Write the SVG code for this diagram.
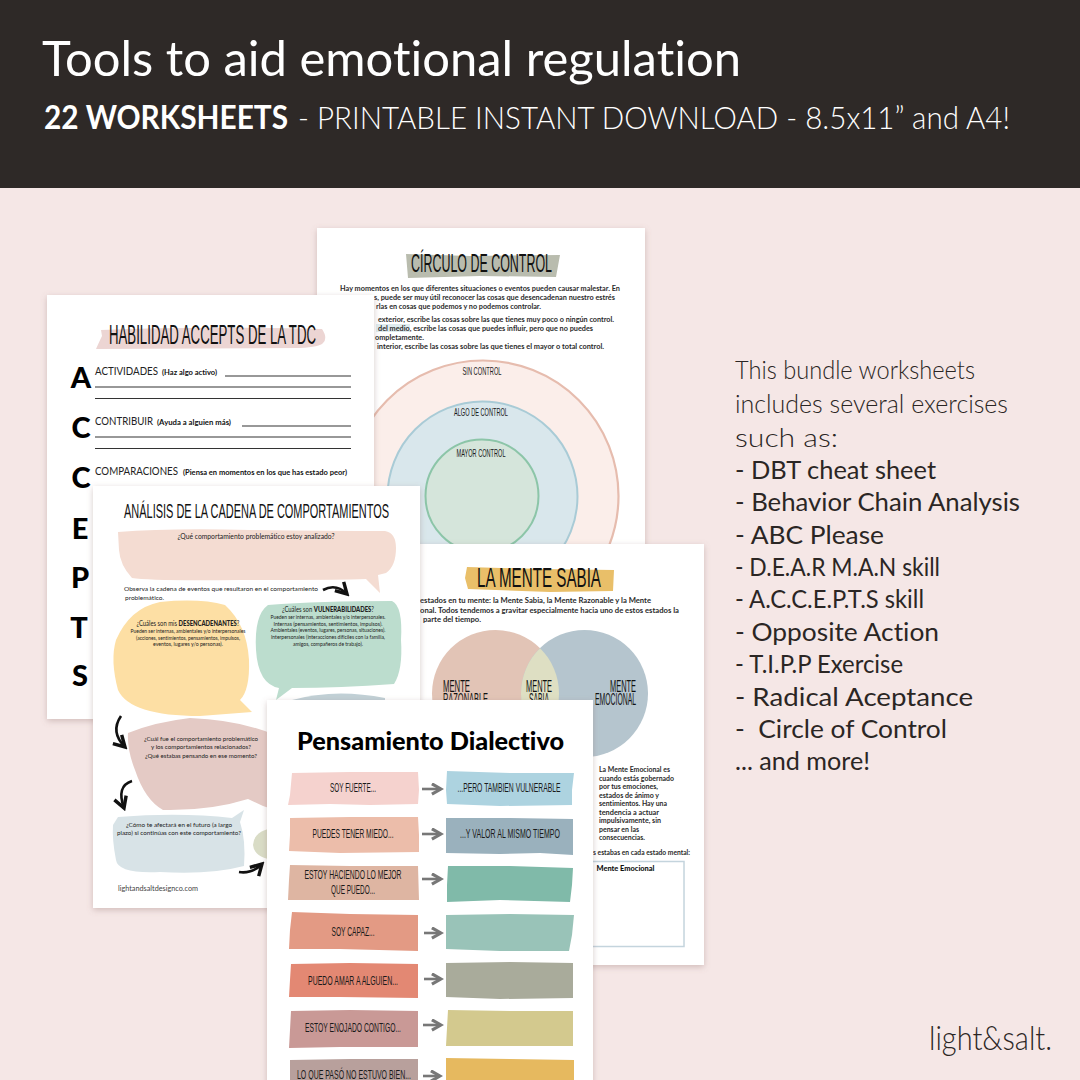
<svg xmlns="http://www.w3.org/2000/svg" width="1080" height="1080" viewBox="0 0 1080 1080">
<defs>
<filter id="sh" x="-10%" y="-10%" width="120%" height="120%"><feDropShadow dx="0" dy="2" stdDeviation="3" flood-color="#8a6a66" flood-opacity="0.35"/></filter>
<marker id="ah" viewBox="0 0 10 10" refX="8" refY="5" markerWidth="5" markerHeight="5" orient="auto"><path d="M1 1L8 5L1 9" fill="none" stroke="#777" stroke-width="2.4"/></marker>
<marker id="bh" viewBox="0 0 10 10" refX="8" refY="5" markerWidth="6" markerHeight="6" orient="auto"><path d="M1 1L8 5L1 9" fill="none" stroke="#111" stroke-width="2.2"/></marker>
</defs>
<style>
text{font-family:"Lato","Noto Sans",sans-serif;fill:#111;font-variant-ligatures:none}
.page{fill:#fff;filter:url(#sh)}
.hd{font-family:"Liberation Sans Narrow","Liberation Sans",sans-serif;fill:#111}
.b{font-size:7.6px;font-weight:700;fill:#2a2a2a}
.h{font-size:6.4px;fill:#222}
.t{font-size:7.2px;fill:#222;text-anchor:middle}
.ln{stroke:#333;stroke-width:1.2}
.side{font-size:25.5px;fill:#2b2624}
.lt{font-weight:300}
.reg{font-weight:400}
.lab{font-family:"Liberation Sans Narrow","Liberation Sans",sans-serif;font-size:13.5px;text-anchor:middle;fill:#1a1a1a}
.cl{font-size:11px}
.ar{stroke:#777;stroke-width:2.6;fill:none;marker-end:url(#ah)}
.ca{stroke:#111;stroke-width:2.6;fill:none;marker-end:url(#bh)}
.ltr{font-size:29px;font-weight:900;text-anchor:middle;fill:#000}
.w{fill:#fff}
.s1{font-size:10.5px;fill:#222}
.s2{font-size:8px;font-weight:700}
.m{font-size:16.5px}
.x{font-size:5.6px}
.y{font-size:6.6px}
.z{font-size:6.4px}
</style>
<rect width="1080" height="1080" fill="#f5e7e6"/>
<rect width="1080" height="188" fill="#2e2927"/>
<text class="w" x="42" y="76" font-size="47.5" textLength="699" lengthAdjust="spacingAndGlyphs" style="fill:#fff">Tools to aid emotional regulation</text>
<text class="w" x="44" y="129" font-size="32" font-weight="700" textLength="244" lengthAdjust="spacingAndGlyphs" style="fill:#fff">22 WORKSHEETS</text>
<text class="w" x="298" y="129" font-size="32" font-weight="300" textLength="712" lengthAdjust="spacingAndGlyphs" style="fill:#fff">- PRINTABLE INSTANT DOWNLOAD - 8.5x11” and A4!</text>

<g id="circulo">
<rect class="page" x="317" y="228" width="328" height="330"/>
<path d="M406 254L470 256L560 255L556 277L480 276L408 278Z" fill="#b9bcae"/>
<text class="hd" x="411" y="272" font-size="26" textLength="141" lengthAdjust="spacingAndGlyphs">CÍRCULO DE CONTROL</text>
<text class="b" x="340" y="291" textLength="280" lengthAdjust="spacingAndGlyphs">Hay momentos en los que diferentes situaciones o eventos pueden causar malestar. En</text>
<text class="b" x="374" y="300" textLength="241" lengthAdjust="spacingAndGlyphs">s, puede ser muy útil reconocer las cosas que desencadenan nuestro estrés</text>
<text class="b" x="376" y="309" textLength="165" lengthAdjust="spacingAndGlyphs">rlas en cosas que podemos y no podemos controlar.</text>
<text class="b" x="378" y="322" textLength="236" lengthAdjust="spacingAndGlyphs">exterior, escribe las cosas sobre las que tienes muy poco o ningún control.</text>
<rect x="376" y="324" width="34" height="8" fill="#dfecef"/>
<text class="b" x="378" y="331" textLength="215" lengthAdjust="spacingAndGlyphs">del medio, escribe las cosas que puedes influir, pero que no puedes</text>
<text class="b" x="375" y="340" textLength="49" lengthAdjust="spacingAndGlyphs">ompletamente.</text>
<text class="b" x="377" y="349" textLength="227" lengthAdjust="spacingAndGlyphs">interior, escribe las cosas sobre las que tienes el mayor o total control.</text>
<circle cx="483" cy="496" r="135.5" fill="#fbeeea" stroke="#e6bcae" stroke-width="2.2"/>
<circle cx="482.5" cy="496.5" r="95" fill="#d9e7ec" stroke="#a9cbd6" stroke-width="2"/>
<circle cx="482" cy="496" r="56.5" fill="#d5e5db" stroke="#8cc5a8" stroke-width="2"/>
<text class="lab cl" x="482" y="375" textLength="39" lengthAdjust="spacingAndGlyphs">SIN CONTROL</text>
<text class="lab cl" x="481" y="416" textLength="54" lengthAdjust="spacingAndGlyphs">ALGO DE CONTROL</text>
<text class="lab cl" x="481" y="457" textLength="49" lengthAdjust="spacingAndGlyphs">MAYOR CONTROL</text>
</g>

<g id="accepts">
<rect class="page" x="47" y="295" width="327" height="424"/>
<path d="M101 330Q200 326 322 329Q328 338 323 343Q320 347 300 348L96 349Q100 340 102 336Z" fill="#ecd5d3"/>
<text class="hd" x="109" y="344" font-size="27" textLength="207" lengthAdjust="spacingAndGlyphs">HABILIDAD ACCEPTS DE LA TDC</text>
<text class="ltr" x="81" y="388">A</text>
<text class="ltr" x="81" y="438">C</text>
<text class="ltr" x="81" y="488">C</text>
<text class="ltr" x="80" y="539">E</text>
<text class="ltr" x="80" y="588">P</text>
<text class="ltr" x="79" y="638">T</text>
<text class="ltr" x="80" y="686">S</text>
<text class="s1" x="95" y="375" textLength="63" lengthAdjust="spacingAndGlyphs">ACTIVIDADES</text>
<text class="s2" x="162" y="375" textLength="55" lengthAdjust="spacingAndGlyphs">(Haz algo activo)</text>
<text class="s1" x="95" y="425" textLength="58" lengthAdjust="spacingAndGlyphs">CONTRIBUIR</text>
<text class="s2" x="157" y="425" textLength="74" lengthAdjust="spacingAndGlyphs">(Ayuda a alguien más)</text>
<text class="s1" x="95" y="475" textLength="83" lengthAdjust="spacingAndGlyphs">COMPARACIONES</text>
<text class="s2" x="183" y="475" textLength="164" lengthAdjust="spacingAndGlyphs">(Piensa en momentos en los que has estado peor)</text>
<path class="ln" d="M225 376H351M95 387H351M95 398.5H351M242 426H351M95 437H351M95 448.5H351"/>
</g>

<g id="mente">
<rect class="page" x="404" y="544" width="300" height="421"/>
<path d="M467 567L540 569L614 570L613 591L550 592L468 589L465 578Z" fill="#e9bf69"/>
<text class="hd" x="477" y="587" font-size="27" textLength="124" lengthAdjust="spacingAndGlyphs">LA MENTE SABIA</text>
<text class="b" x="420" y="603" textLength="231" lengthAdjust="spacingAndGlyphs">estados en tu mente: la Mente Sabia, la Mente Razonable y la Mente</text>
<text class="b" x="420" y="613" textLength="259" lengthAdjust="spacingAndGlyphs">onal. Todos tendemos a gravitar especialmente hacia uno de estos estados la</text>
<text class="b" x="423" y="622" textLength="58" lengthAdjust="spacingAndGlyphs">parte del tiempo.</text>
<circle cx="495.5" cy="693.5" r="63.5" fill="#e2c4b6"/>
<circle cx="584.5" cy="693.5" r="63.5" fill="#b5c5ce"/>
<path d="M540 648.2A63.5 63.5 0 0 1 540 738.8A63.5 63.5 0 0 1 540 648.2Z" fill="#dedfc3"/>
<text class="hd m" x="443" y="692" textLength="27" lengthAdjust="spacingAndGlyphs">MENTE</text>
<text class="hd m" x="443" y="705" textLength="45" lengthAdjust="spacingAndGlyphs">RAZONABLE</text>
<text class="hd m" x="526" y="692" textLength="26" lengthAdjust="spacingAndGlyphs">MENTE</text>
<text class="hd m" x="529" y="705" textLength="20" lengthAdjust="spacingAndGlyphs">SABIA</text>
<text class="hd m" x="610" y="692" textLength="26" lengthAdjust="spacingAndGlyphs">MENTE</text>
<text class="hd m" x="595" y="705" textLength="41" lengthAdjust="spacingAndGlyphs">EMOCIONAL</text>
<text class="b" x="599" y="772" textLength="71" lengthAdjust="spacingAndGlyphs">La Mente Emocional es</text>
<text class="b" x="599" y="780.5" textLength="75" lengthAdjust="spacingAndGlyphs">cuando estás gobernado</text>
<text class="b" x="599" y="789" textLength="59" lengthAdjust="spacingAndGlyphs">por tus emociones,</text>
<text class="b" x="599" y="797.5" textLength="60" lengthAdjust="spacingAndGlyphs">estados de ánimo y</text>
<text class="b" x="599" y="806" textLength="68" lengthAdjust="spacingAndGlyphs">sentimientos. Hay una</text>
<text class="b" x="599" y="814.5" textLength="60" lengthAdjust="spacingAndGlyphs">tendencia a actuar</text>
<text class="b" x="599" y="823" textLength="62" lengthAdjust="spacingAndGlyphs">impulsivamente, sin</text>
<text class="b" x="599" y="831.5" textLength="40" lengthAdjust="spacingAndGlyphs">pensar en las</text>
<text class="b" x="599" y="840" textLength="46" lengthAdjust="spacingAndGlyphs">consecuencias.</text>
<text class="b" x="593" y="855" textLength="97" lengthAdjust="spacingAndGlyphs">s estabas en cada estado mental:</text>
<rect x="570" y="861.5" width="114" height="85" fill="none" stroke="#c4d4dd" stroke-width="1.5"/>
<text x="596.5" y="871" font-size="7.6" font-weight="900" textLength="58" lengthAdjust="spacingAndGlyphs">Mente Emocional</text>
</g>

<g id="cadena">
<rect class="page" x="93" y="486" width="327" height="422"/>
<text class="hd" x="124" y="518" font-size="21" textLength="265" lengthAdjust="spacingAndGlyphs">ANÁLISIS DE LA CADENA DE COMPORTAMIENTOS</text>
<path d="M118 532Q170 528 250 530Q330 531 385 531Q396 533 396 548Q396 566 386 573L378 575L380 593L366 579Q340 580 240 580Q150 581 132 578Q120 565 119 550Z" fill="#f4dcd2"/>
<text class="t" x="256" y="539" textLength="157" lengthAdjust="spacingAndGlyphs">¿Qué comportamiento problemático estoy analizado?</text>
<text class="h" x="124" y="591" textLength="194" lengthAdjust="spacingAndGlyphs">Observa la cadena de eventos que resultaron en el comportamiento</text>
<text class="h" x="125" y="600" textLength="39" lengthAdjust="spacingAndGlyphs">problemático.</text>
<path class="ca" d="M323 590Q336 583 347 594"/>
<path d="M160 602Q200 598 225 605Q247 625 249 660Q250 690 240 700L252 712L200 716Q130 716 118 690Q110 660 116 640Q130 608 160 602Z" fill="#fddfa4"/>
<text class="t y" x="188" y="626" textLength="103" lengthAdjust="spacingAndGlyphs">¿Cuáles son mis <tspan font-weight="900">DESENCADENANTES</tspan>?</text>
<text class="t x" x="188" y="633" textLength="115" lengthAdjust="spacingAndGlyphs">Pueden ser internas, ambientales y/o interpersonales</text>
<text class="t x" x="188" y="640" textLength="104" lengthAdjust="spacingAndGlyphs">(acciones, sentimientos, pensamientos, impulsos,</text>
<text class="t x" x="188" y="646" textLength="70" lengthAdjust="spacingAndGlyphs">eventos, lugares y/o personas).</text>
<path d="M268 605Q320 601 392 601Q403 606 401 640Q403 670 394 684Q340 688 292 688L276 700L279 688Q258 684 256 650Q254 615 268 605Z" fill="#bcddce"/>
<text class="t y" x="328" y="612" textLength="92" lengthAdjust="spacingAndGlyphs">¿Cuáles son <tspan font-weight="900">VULNERABILIDADES</tspan>?</text>
<text class="t x" x="328" y="619" textLength="115" lengthAdjust="spacingAndGlyphs">Pueden ser internas, ambientales y/o interpersonales.</text>
<text class="t x" x="328" y="626" textLength="109" lengthAdjust="spacingAndGlyphs">Internas (pensamientos, sentimientos, impulsos).</text>
<text class="t x" x="328" y="632" textLength="115" lengthAdjust="spacingAndGlyphs">Ambientales (eventos, lugares, personas, situaciones).</text>
<text class="t x" x="328" y="639" textLength="114" lengthAdjust="spacingAndGlyphs">Interpersonales (interacciones difíciles con la familia,</text>
<text class="t x" x="328" y="646" textLength="70" lengthAdjust="spacingAndGlyphs">amigos, compañeros de trabajo).</text>
<path d="M292 700Q335 688 385 698L385 710L292 710Z" fill="#c1d0d6"/>
<path d="M128 733Q155 722 190 718Q240 720 275 735L275 810L263 806L248 799Q210 811 163 810Q145 800 135 770Q127 750 128 733Z" fill="#e4cac5"/>
<text class="t z" x="201" y="741" textLength="114" lengthAdjust="spacingAndGlyphs">¿Cuál fue el comportamiento problemático</text>
<text class="t z" x="201" y="749" textLength="100" lengthAdjust="spacingAndGlyphs">y los comportamientos relacionados?</text>
<text class="t z" x="201" y="758" textLength="112" lengthAdjust="spacingAndGlyphs">¿Qué estabas pensando en ese momento?</text>
<path d="M118 817Q180 812 232 818L244 810L240 822Q246 840 244 866Q210 875 160 872Q118 874 116 860Q112 840 113 825Z" fill="#d8e3e7"/>
<text class="t z" x="179" y="827" textLength="106" lengthAdjust="spacingAndGlyphs">¿Cómo te afectará en el futuro (a largo</text>
<text class="t z" x="179" y="835" textLength="124" lengthAdjust="spacingAndGlyphs">plazo) si continúas con este comportamiento?</text>
<path d="M275 828Q254 830 253 845Q254 858 275 860Z" fill="#d9dcc6"/>
<path class="ca" d="M121 716Q110 732 125 747"/>
<path class="ca" d="M132 781Q116 786 124 808"/>
<path class="ca" d="M239 872Q252 874 262 864"/>
<text x="118" y="891" font-size="8" textLength="80" lengthAdjust="spacingAndGlyphs" style="fill:#444">lightandsaltdesignco.com</text>
</g>

<g id="dialectivo">
<rect class="page" x="267" y="700" width="326" height="385"/>
<text x="297" y="750" font-size="24" font-weight="900" textLength="267" lengthAdjust="spacingAndGlyphs" style="fill:#000">Pensamiento Dialectivo</text>
<g id="filas">
<path d="M292 773L350 772L418 772L419 790L418 804L370 805L330 804L288 805L290 795Z" fill="#f5d2ce"/>
<path d="M447 771L510 773L574 773L572 790L572 805L500 806L447 804L446 790Z" fill="#add3e0"/>
<path d="M290 818L350 817L418 817L419 835L419 852L340 853L289 851L290 835Z" fill="#ecbdaa"/>
<path d="M446 818L510 818L573 819L573 855L540 853L500 854L446 853Z" fill="#9ab1bd"/>
<path d="M290 865L350 866L418 866L419 900L340 900L288 900L289 880Z" fill="#deb5a2"/>
<path d="M448 866L510 866L573 868L572 885L570 902L500 900L447 902L447 885Z" fill="#80baa9"/>
<path d="M292 912L350 914L418 915L418 951L340 949L289 949L290 930Z" fill="#e39a84"/>
<path d="M446 915L510 914L574 915L572 935L569 951L500 951L446 949Z" fill="#99c3b8"/>
<path d="M291 964L350 963L418 964L418 998L340 997L289 997L290 980Z" fill="#e38873"/>
<path d="M446 963L510 962L573 963L573 998L500 999L446 997Z" fill="#a9ab9b"/>
<path d="M291 1011L350 1010L418 1011L418 1047L340 1047L289 1048L290 1030Z" fill="#c99996"/>
<path d="M448 1010L510 1011L573 1011L573 1046L500 1046L446 1046Z" fill="#d3c98e"/>
<path d="M290 1060L350 1059L418 1059L418 1085L290 1085Z" fill="#b8a09c"/>
<path d="M446 1058L510 1059L574 1060L574 1085L446 1085Z" fill="#e6b95f"/>
</g>
<g id="textos">
<text class="lab" x="353" y="792" textLength="46" lengthAdjust="spacingAndGlyphs">SOY FUERTE...</text>
<text class="lab" x="509" y="792" textLength="103" lengthAdjust="spacingAndGlyphs">...PERO TAMBIEN VULNERABLE</text>
<text class="lab" x="353" y="838" textLength="81" lengthAdjust="spacingAndGlyphs">PUEDES TENER MIEDO...</text>
<text class="lab" x="510" y="838" textLength="100" lengthAdjust="spacingAndGlyphs">...Y VALOR AL MISMO TIEMPO</text>
<text class="lab" x="353" y="879" textLength="97" lengthAdjust="spacingAndGlyphs">ESTOY HACIENDO LO MEJOR</text>
<text class="lab" x="353" y="894" textLength="44" lengthAdjust="spacingAndGlyphs">QUE PUEDO...</text>
<text class="lab" x="353" y="936" textLength="43" lengthAdjust="spacingAndGlyphs">SOY CAPAZ...</text>
<text class="lab" x="353" y="985" textLength="90" lengthAdjust="spacingAndGlyphs">PUEDO AMAR A ALGUIEN...</text>
<text class="lab" x="353" y="1032" textLength="96" lengthAdjust="spacingAndGlyphs">ESTOY ENOJADO CONTIGO...</text>
<text class="lab" x="354" y="1079" textLength="114" lengthAdjust="spacingAndGlyphs">LO QUE PASÓ NO ESTUVO BIEN...</text>
</g>
<g id="conectores">
<path class="ar" d="M422 789H441"/>
<path class="ar" d="M422 834H441"/>
<path class="ar" d="M422 879H441"/>
<path class="ar" d="M424 933H441"/>
<path class="ar" d="M424 979H441"/>
<path class="ar" d="M423 1025H441"/>
<path class="ar" d="M423 1076H440"/>
</g>
</g>

<g id="lista">
<text class="side lt" x="735" y="379" textLength="240" lengthAdjust="spacingAndGlyphs">This bundle worksheets</text>
<text class="side lt" x="735" y="413" textLength="273" lengthAdjust="spacingAndGlyphs">includes several exercises</text>
<text class="side lt" x="735" y="447" textLength="103" lengthAdjust="spacingAndGlyphs">such as:</text>
<text class="side reg" x="735" y="479" textLength="201" lengthAdjust="spacingAndGlyphs">- DBT cheat sheet</text>
<text class="side reg" x="735" y="511" textLength="285" lengthAdjust="spacingAndGlyphs">- Behavior Chain Analysis</text>
<text class="side reg" x="735" y="544" textLength="149" lengthAdjust="spacingAndGlyphs">- ABC Please</text>
<text class="side reg" x="735" y="576" textLength="205" lengthAdjust="spacingAndGlyphs">- D.E.A.R M.A.N skill</text>
<text class="side reg" x="735" y="608" textLength="189" lengthAdjust="spacingAndGlyphs">- A.C.C.E.P.T.S skill</text>
<text class="side reg" x="735" y="641" textLength="204" lengthAdjust="spacingAndGlyphs">- Opposite Action</text>
<text class="side reg" x="735" y="673" textLength="168" lengthAdjust="spacingAndGlyphs">- T.I.P.P Exercise</text>
<text class="side reg" x="735" y="706" textLength="238" lengthAdjust="spacingAndGlyphs">- Radical Aceptance</text>
<text class="side reg" x="735" y="738" textLength="212" lengthAdjust="spacingAndGlyphs" xml:space="preserve">-  Circle of Control</text>
<text class="side reg" x="735" y="770" textLength="135" lengthAdjust="spacingAndGlyphs">... and more!</text>
</g>
<text x="929" y="1050" font-size="33" font-weight="300" textLength="123" lengthAdjust="spacingAndGlyphs" style="fill:#2b2624">light&amp;salt.</text>
</svg>
